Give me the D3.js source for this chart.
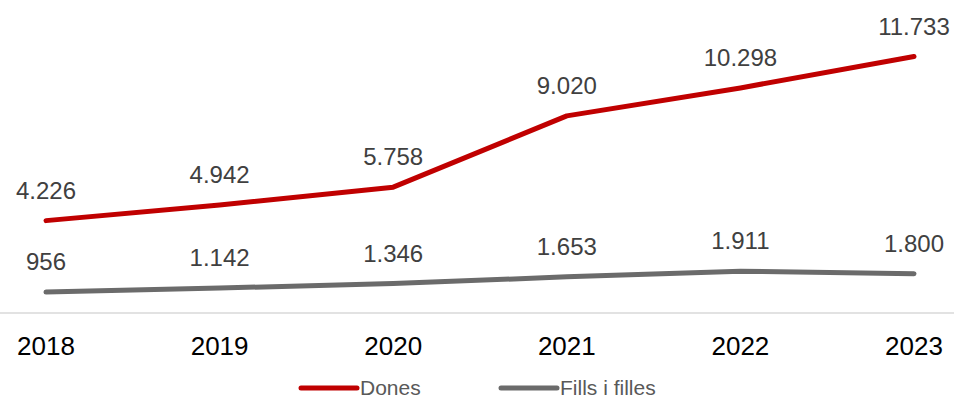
<!DOCTYPE html>
<html>
<head>
<meta charset="utf-8">
<script src="https://cdn.jsdelivr.net/npm/d3@7"></script>
<style>
  body { margin: 0; background: #fff; }
  svg { display: block; font-family: "Liberation Sans", Arial, sans-serif; }
</style>
</head>
<body>
<div id="chart"></div>
<script>
// Data
const years = ['2018', '2019', '2020', '2021', '2022', '2023'];
const dones = [4226, 4942, 5758, 9020, 10298, 11733];
const fills = [956, 1142, 1346, 1653, 1911, 1800];
const seriesNames = ['Dones', 'Fills i filles'];
const seriesColors = ['#c00000', '#6b6b6b'];

const width = 954, height = 400;

const svg = d3.select('#chart')
  .append('svg')
  .attr('width', width)
  .attr('height', height);

const x = d3.scalePoint()
  .domain(years)
  .range([46, 914]);

const y = d3.scaleLinear()
  .domain([0, 14000])
  .range([313, 7]);

const fmt = d3.formatLocale({ decimal: ',', thousands: '.', grouping: [3], currency: ['', '€'] }).format(',d');

// axis baseline
svg.append('line')
  .attr('x1', 0).attr('x2', width)
  .attr('y1', y(0)).attr('y2', y(0))
  .attr('stroke', '#d9d9d9')
  .attr('stroke-width', 1.5);

// year labels
svg.append('g')
  .selectAll('text')
  .data(years)
  .enter()
  .append('text')
  .attr('x', d => x(d))
  .attr('y', 355)
  .attr('text-anchor', 'middle')
  .attr('font-size', '26px')
  .attr('fill', '#000')
  .text(d => d);

const series = [dones, fills];
const line = d3.line()
  .x((d, i) => x(years[i]))
  .y(d => y(d));

series.forEach((vals, s) => {
  svg.append('path')
    .datum(vals)
    .attr('d', line)
    .attr('fill', 'none')
    .attr('stroke', seriesColors[s])
    .attr('stroke-width', 5)
    .attr('stroke-linecap', 'round')
    .attr('stroke-linejoin', 'round');

  svg.append('g')
    .selectAll('text')
    .data(vals)
    .enter()
    .append('text')
    .attr('x', (d, i) => x(years[i]))
    .attr('y', d => y(d) - 22)
    .attr('text-anchor', 'middle')
    .attr('font-size', '24px')
    .attr('fill', '#404040')
    .text(d => fmt(d));
});

// legend
const legendX = [301, 501];
seriesNames.forEach((name, s) => {
  const g = svg.append('g').attr('transform', `translate(${legendX[s]},388)`);
  g.append('line')
    .attr('x1', 0).attr('x2', 56)
    .attr('stroke', seriesColors[s])
    .attr('stroke-width', 5)
    .attr('stroke-linecap', 'round');
  g.append('text')
    .attr('x', 59)
    .attr('y', 7)
    .attr('font-size', '21px')
    .attr('fill', '#595959')
    .text(name);
});
</script>
</body>
</html>
